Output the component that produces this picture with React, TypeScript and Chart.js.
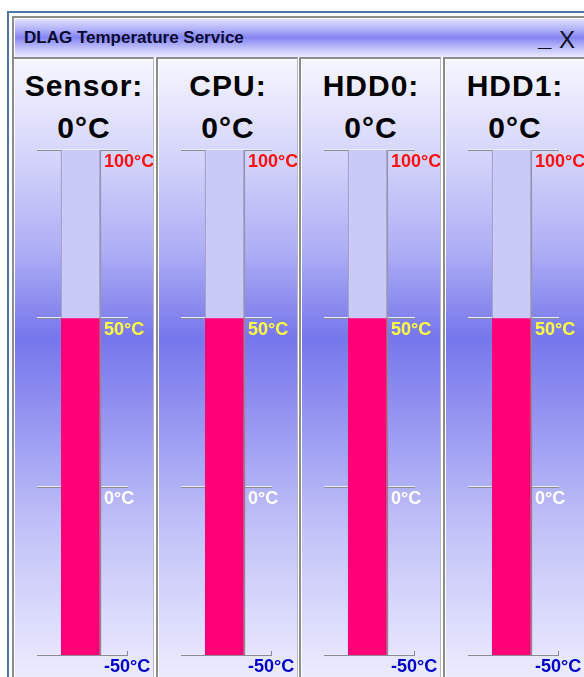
import React, { useEffect, useRef } from "react";
import { Chart, registerables } from "chart.js";

Chart.register(...registerables);

// ---- data ----
const windowTitle = "DLAG Temperature Service";
const sensorNames = ["Sensor:", "CPU:", "HDD0:", "HDD1:"];
const readingsC = [0, 0, 0, 0];
const fillLevels = [50, 50, 50, 50];
const scaleMin = -50;
const scaleMax = 100;
const tickValues = [100, 50, 0, -50];
const tickLabels = ["100°C", "50°C", "0°C", "-50°C"];
const tickColors = ["#ff1010", "#ffff40", "#ffffff", "#0000c8"];

// ---- layout ----
const PANEL_LEFTS = [12, 156, 299, 443];
const PANEL_W = 142;
const PANEL_TOP = 57;
const CANVAS_TOP = 140;
const CANVAS_H = 537;
const FONT = '"Liberation Sans", Arial, Helvetica, sans-serif';

const thermoPlugin = {
  id: "thermo",
  beforeDatasetsDraw(chart: any) {
    const ctx = chart.ctx;
    const ys = chart.scales.y;
    const cx = chart.getDatasetMeta(0).data[0].x;
    ctx.save();
    tickValues.forEach((v, i) => {
      const py = Math.round(ys.getPixelForValue(v));
      ctx.fillStyle = "#ececf4";
      ctx.fillRect(cx - 44, py - 1, 91, 1);
      ctx.fillStyle = "#8a8a98";
      ctx.fillRect(cx - 44, py, 91, 1);
      if (i === tickValues.length - 1) {
        ctx.fillRect(cx + 46, py - 4, 1, 4);
      }
    });
    ctx.restore();
  },
  afterDatasetsDraw(chart: any) {
    const ctx = chart.ctx;
    const ys = chart.scales.y;
    const cx = chart.getDatasetMeta(0).data[0].x;
    ctx.save();
    ctx.font = "bold 19px " + FONT;
    ctx.textAlign = "left";
    ctx.textBaseline = "alphabetic";
    tickValues.forEach((v, i) => {
      const py = Math.round(ys.getPixelForValue(v));
      ctx.save();
      ctx.translate(cx + 23, py + 16.5);
      ctx.scale(0.95, 1);
      ctx.fillStyle = tickColors[i];
      ctx.fillText(tickLabels[i], 0, 0);
      ctx.restore();
    });
    ctx.restore();
  },
};

function Thermo({ index }: { index: number }) {
  const ref = useRef<HTMLCanvasElement | null>(null);
  useEffect(() => {
    if (!ref.current) return;
    const chart = new Chart(ref.current, {
      type: "bar",
      data: {
        labels: [sensorNames[index]],
        datasets: [
          {
            data: [[scaleMin, scaleMax]] as any,
            backgroundColor: "#cacaf8",
            borderColor: "#9494b4",
            borderWidth: { left: 1, right: 2, top: 0, bottom: 0 } as any,
            borderSkipped: false,
            barThickness: 40,
            grouped: false,
            order: 2,
          } as any,
          {
            data: [[scaleMin, fillLevels[index]]] as any,
            backgroundColor: "#ff0078",
            borderColor: "#a87890",
            borderWidth: { left: 0, right: 2, top: 0, bottom: 0 } as any,
            borderSkipped: false,
            barThickness: 40,
            grouped: false,
            order: 1,
          } as any,
        ],
      },
      options: {
        animation: false,
        responsive: false,
        maintainAspectRatio: false,
        layout: { padding: { top: 10, bottom: 22, left: 0, right: 6 } },
        scales: {
          x: { display: false },
          y: { display: false, min: scaleMin, max: scaleMax },
        },
        plugins: { legend: { display: false }, tooltip: { enabled: false } },
      },
      plugins: [thermoPlugin],
    });
    return () => chart.destroy();
  }, [index]);
  const left = PANEL_LEFTS[index];
  return (
    <>
      <div
        style={{
          position: "absolute",
          left,
          top: PANEL_TOP,
          width: PANEL_W - 3,
          height: 677 - PANEL_TOP,
          borderLeft: "2px solid #8c8c8c",
          borderTop: "2px solid #8c8c8c",
          borderRight: "1px solid #b8b8c0",
          boxShadow: "inset 1px 1px 0 #ffffff",
          background:
            "linear-gradient(to bottom, #f6f6ff 0%, #d6d6fb 15%, #aeaef5 31%, #7676ec 45%, #9a9af2 60%, #c2c2f8 76%, #ececfe 100%)",
        }}
      />
      <div
        style={{
          position: "absolute",
          left: left + 1,
          width: PANEL_W,
          top: 71,
          textAlign: "center",
          font: "bold 30px " + FONT,
          lineHeight: "30px",
          letterSpacing: "1px",
          color: "#000000",
          whiteSpace: "nowrap",
        }}
      >
        {sensorNames[index]}
      </div>
      <div
        style={{
          position: "absolute",
          left: left + 1,
          width: PANEL_W,
          top: 113,
          textAlign: "center",
          font: "bold 30px " + FONT,
          lineHeight: "30px",
          letterSpacing: "1px",
          color: "#000000",
        }}
      >
        {readingsC[index] + "°C"}
      </div>
      <canvas
        ref={ref}
        width={PANEL_W - 4}
        height={CANVAS_H}
        style={{
          position: "absolute",
          left: left + 3,
          top: CANVAS_TOP,
          width: PANEL_W - 4,
          height: CANVAS_H,
        }}
      />
    </>
  );
}

export default function App() {
  return (
    <div
      style={{
        position: "absolute",
        left: 0,
        top: 0,
        width: 584,
        height: 677,
        overflow: "hidden",
        background: "#ffffff",
      }}
    >
      {/* outer window frame */}
      <div style={{ position: "absolute", left: 7, top: 11, width: 600, height: 2, background: "#4f74a8" }} />
      <div style={{ position: "absolute", left: 7, top: 11, width: 2, height: 700, background: "#4f74a8" }} />
      {/* title bar */}
      <div
        style={{
          position: "absolute",
          left: 12,
          top: 16,
          width: 600,
          height: 39,
          borderLeft: "2px solid #8c8c8c",
          borderTop: "2px solid #8c8c8c",
          boxShadow: "inset 1px 1px 0 #ffffff",
          background:
            "linear-gradient(to bottom, #e4e4ff 0%, #b0b0fa 30%, #8484f2 50%, #b4b4fa 72%, #eaeaff 100%)",
        }}
      />
      <div
        style={{
          position: "absolute",
          left: 24,
          top: 29,
          font: "bold 17px " + FONT,
          lineHeight: "17px",
          color: "#0a0a30",
          whiteSpace: "nowrap",
        }}
      >
        {windowTitle}
      </div>
      <div
        style={{
          position: "absolute",
          left: 538,
          top: 27,
          font: "bold 24px " + FONT,
          lineHeight: "22px",
          color: "#101020",
        }}
      >
        _
      </div>
      <div
        style={{
          position: "absolute",
          left: 559,
          top: 28,
          font: "24px " + FONT,
          lineHeight: "24px",
          color: "#101020",
        }}
      >
        X
      </div>
      {sensorNames.map((_, i) => (
        <Thermo key={i} index={i} />
      ))}
    </div>
  );
}
